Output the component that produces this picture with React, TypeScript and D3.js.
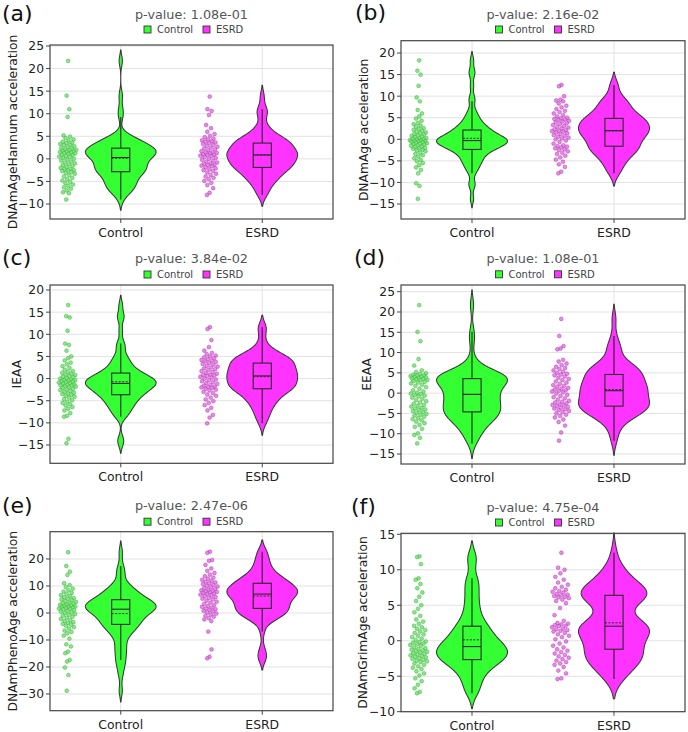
import React from "react";
import * as d3 from "d3";

const groups = ["Control", "ESRD"];
const panelTags = ["(a)", "(b)", "(c)", "(d)", "(e)", "(f)"];
const pValueLabels = ["1.08e-01", "2.16e-02", "3.84e-02", "1.08e-01", "2.47e-06", "4.75e-04"];
const yAxisTitles = [
  "DNAmAgeHannum acceleration",
  "DNAmAge acceleration",
  "IEAA",
  "EEAA",
  "DNAmPhenoAge acceleration",
  "DNAmGrimAge acceleration",
];

const yTicksA = [-10, -5, 0, 5, 10, 15, 20, 25];
const yTicksB = [-15, -10, -5, 0, 5, 10, 15, 20];
const yTicksC = [-15, -10, -5, 0, 5, 10, 15, 20];
const yTicksD = [-15, -10, -5, 0, 5, 10, 15, 20, 25];
const yTicksE = [-30, -20, -10, 0, 10, 20];
const yTicksF = [-10, -5, 0, 5, 10, 15];

const hannumControl = [
  21.7, 14.0, 11.0, 9.3, 5.2, 4.9, 4.6, 4.3, 4.0, 3.8, 3.6, 3.5, 3.3, 3.1, 3.0, 2.8, 2.6,
  2.4, 2.3, 2.1, 2.0, 1.9, 1.8, 1.7, 1.6, 1.5, 1.4, 1.3, 1.2, 1.1, 0.9, 0.8, 0.6, 0.5, 0.4,
  0.2, 0.0, -0.2, -0.4, -0.6, -0.8, -1.0, -1.2, -1.4, -1.6, -1.8, -2.0, -2.2, -2.3, -2.5, -2.6, -2.7,
  -2.9, -3.1, -3.3, -3.6, -3.9, -4.2, -4.5, -4.8, -5.1, -5.4, -5.7, -6.0, -6.3, -6.6, -7.0, -7.4, -7.6, -9.0,
];
const hannumESRD = [
  13.8, 11.0, 10.6, 9.7, 7.5, 6.8, 6.0, 5.5, 5.1, 4.8, 4.5, 4.3, 4.1, 3.9, 3.8, 3.65,
  3.5, 3.3, 3.1, 2.9, 2.7, 2.5, 2.3, 2.1, 1.9, 1.7, 1.5, 1.4, 1.3, 1.2, 1.0, 0.9,
  0.85,
  0.7, 0.6, 0.4, 0.2, 0.0, -0.2, -0.4, -0.6, -0.8, -1.0, -1.1, -1.3, -1.4, -1.5, -1.6,
  -1.9, -2.1, -2.3, -2.5, -2.7, -3.0, -3.3, -3.6, -3.9, -4.2, -4.5, -4.9, -5.3, -5.8, -6.5, -7.5, -8.0,
];
const ageControl = [
  18.3, 15.9, 15.0, 12.4, 9.7, 8.8, 6.8, 6.0, 5.3, 4.8, 4.3, 3.8, 3.5, 3.2, 2.9, 2.6, 2.4,
  2.2, 2.0, 1.8, 1.6, 1.4, 1.2, 1.1, 0.9, 0.8, 0.6, 0.5, 0.3, 0.2, 0.1, 0.0, -0.1, -0.2, -0.25,
  -0.35, -0.4, -0.5, -0.6, -0.7, -0.8, -0.9, -1.0, -1.1, -1.2, -1.4, -1.5, -1.7, -1.8, -2.0, -2.1, -2.2,
  -2.4, -2.6, -2.8, -3.1, -3.4, -3.7, -4.0, -4.4, -4.8, -5.1, -5.5, -6.0, -6.5, -7.1, -7.9, -10.2, -10.8, -13.8,
];
const ageESRD = [
  12.6, 12.3, 10.0, 9.2, 9.0, 8.8, 8.3, 7.8, 7.4, 7.0, 6.6, 6.3, 6.0, 5.6, 5.3, 5.0,
  4.85, 4.7, 4.6, 4.5, 4.3, 4.1, 3.9, 3.7, 3.5, 3.3, 3.1, 2.9, 2.7, 2.5, 2.3, 2.1,
  2.0, 1.9, 1.8, 1.6, 1.4, 1.2, 1.0, 0.8, 0.6, 0.4, 0.2, 0.0, -0.3, -0.6, -1.0, -1.4,
  -1.6, -1.7, -1.9, -2.1, -2.3, -2.5, -2.8, -3.1, -3.4, -3.8, -4.2, -4.7, -5.2, -5.8, -6.4, -7.5, -7.9,
];
const ieaaControl = [
  16.6, 14.1, 13.8, 10.8, 7.9, 7.6, 6.3, 5.0, 4.6, 4.1, 3.6, 3.2, 2.8, 2.4, 2.0, 1.7, 1.5,
  1.3, 1.1, 0.9, 0.8, 0.6, 0.4, 0.3, 0.1, 0.0, -0.2, -0.3, -0.4, -0.5, -0.6, -0.7, -0.8, -0.9, -1.0,
  -1.2, -1.3, -1.4, -1.5, -1.6, -1.7, -1.8, -2.0, -2.1, -2.3, -2.5, -2.6, -2.8, -3.0, -3.2, -3.4, -3.5,
  -3.7, -3.9, -4.1, -4.3, -4.6, -4.9, -5.2, -5.5, -5.8, -6.1, -6.4, -6.8, -7.2, -7.8, -8.4, -8.6, -13.6, -14.6,
];
const ieaaESRD = [
  11.6, 11.2, 8.7, 7.1, 6.3, 5.8, 5.5, 5.2, 5.0, 4.8, 4.6, 4.4, 4.2, 4.0, 3.9, 3.75,
  3.5, 3.3, 3.1, 2.9, 2.7, 2.5, 2.3, 2.1, 1.9, 1.7, 1.5, 1.3, 1.1, 0.9, 0.8, 0.7,
  0.6,
  0.4, 0.2, 0.0, -0.2, -0.4, -0.6, -0.8, -1.0, -1.2, -1.4, -1.6, -1.8, -1.9, -2.0, -2.1,
  -2.3, -2.5, -2.7, -3.0, -3.3, -3.6, -3.9, -4.3, -4.7, -5.1, -5.5, -6.0, -6.6, -7.2, -8.2, -8.8, -10.1,
];
const eeaaControl = [
  21.7, 15.1, 12.8, 8.4, 6.8, 5.6, 5.2, 4.9, 4.7, 4.5, 4.4, 4.3, 4.2, 4.1, 4.0, 3.9, 3.7,
  3.6, 3.5, 3.4, 3.3, 3.2, 3.0, 2.8, 2.6, 2.4, 2.1, 1.8, 1.5, 1.1, 0.7, 0.4, 0.1, -0.1, -0.2,
  -0.4, -0.6, -0.8, -1.1, -1.4, -1.7, -2.0, -2.3, -2.6, -2.9, -3.1, -3.3, -3.6, -3.8, -4.0, -4.2, -4.4,
  -4.7, -4.9, -5.1, -5.3, -5.5, -5.8, -6.1, -6.4, -6.7, -7.0, -7.4, -7.8, -8.3, -8.8, -9.9, -10.3, -11.0, -12.4,
];
const eeaaESRD = [
  18.3, 14.1, 11.6, 11.0, 10.8, 8.2, 7.8, 7.3, 6.9, 6.5, 6.2, 5.9, 5.6, 5.3, 5.0, 4.8,
  4.6, 4.4, 4.1, 3.8, 3.5, 3.2, 2.9, 2.6, 2.3, 2.0, 1.8, 1.6, 1.3, 1.1, 0.9, 0.7,
  0.6,
  0.4, 0.2, -0.1, -0.4, -0.7, -1.0, -1.3, -1.6, -1.9, -2.1, -2.3, -2.5, -2.7, -2.9, -3.0,
  -3.2, -3.4, -3.6, -3.8, -4.0, -4.2, -4.4, -4.7, -5.0, -5.3, -5.6, -6.0, -6.5, -7.1, -8.0, -9.7, -11.7,
];
const phenoControl = [
  22.5, 17.4, 15.3, 14.1, 11.0, 10.3, 9.6, 9.0, 8.4, 7.9, 7.4, 7.0, 6.6, 6.2, 5.8, 5.5, 5.3,
  5.0, 4.7, 4.4, 4.1, 3.8, 3.6, 3.4, 3.2, 3.0, 2.8, 2.6, 2.4, 2.3, 2.2, 2.0, 1.8, 1.6, 1.5,
  1.3, 1.1, 0.8, 0.5, 0.2, -0.1, -0.4, -0.7, -1.0, -1.4, -1.8, -2.2, -2.6, -3.0, -3.4, -3.7, -4.0,
  -4.3, -4.7, -5.2, -5.8, -6.5, -7.0, -7.5, -8.4, -9.5, -11.6, -12.4, -14.3, -14.9, -17.4, -18.0, -20.2, -23.0, -28.8,
];
const phenoESRD = [
  22.7, 22.3, 19.6, 19.3, 17.8, 16.5, 15.6, 14.8, 14.2, 13.6, 13.1, 12.7, 12.3, 11.9, 11.6, 11.3,
  11.0, 10.7, 10.4, 10.1, 9.8, 9.5, 9.2, 8.9, 8.6, 8.4, 8.2, 8.0, 7.8, 7.6, 7.4, 7.2,
  7.0,
  6.8, 6.5, 6.2, 5.9, 5.6, 5.3, 5.0, 4.6, 4.2, 3.8, 3.4, 3.0, 2.6, 2.3, 2.0,
  1.7, 1.4, 1.1, 0.8, 0.5, 0.2, -0.2, -0.6, -1.0, -1.4, -1.9, -2.4, -3.0, -6.9, -13.5, -16.2, -16.8,
];
const grimControl = [
  11.9, 11.8, 10.8, 8.8, 8.6, 8.0, 7.4, 6.8, 6.2, 5.6, 5.0, 4.5, 4.0, 3.5, 3.0, 2.7, 2.4,
  2.1, 1.9, 1.7, 1.5, 1.3, 1.1, 0.9, 0.7, 0.5, 0.3, 0.1, -0.1, -0.2, -0.3, -0.4, -0.5, -0.6, -0.7,
  -0.95, -1.05, -1.15, -1.25, -1.35, -1.45, -1.55, -1.65, -1.75, -1.85, -1.95, -2.05, -2.15, -2.25, -2.35, -2.45, -2.55,
  -2.7, -2.8, -2.9, -3.0, -3.2, -3.4, -3.6, -3.8, -4.0, -4.3, -4.6, -4.9, -5.3, -5.7, -6.2, -6.7, -7.2, -7.4,
];
const grimESRD = [
  12.4, 10.3, 10.0, 9.5, 9.0, 8.6, 8.2, 7.9, 7.6, 7.4, 7.2, 7.0, 6.9, 6.8, 6.6, 6.5,
  6.4, 6.3, 6.2, 6.1, 6.0, 5.8, 5.6, 5.3, 4.6, 3.6, 2.8, 2.5, 2.4, 2.3, 2.2, 2.1,
  2.05,
  1.9, 1.7, 1.6, 1.5, 1.4, 1.3, 1.1, 0.9, 0.7, 0.5, 0.2, -0.1, -0.4, -0.7, -0.95,
  -1.2, -1.4, -1.6, -1.8, -2.0, -2.2, -2.4, -2.6, -2.8, -3.0, -3.2, -3.4, -3.7, -4.2, -4.6, -5.3, -5.4,
];

const panelSeries = [
  [hannumControl, hannumESRD],
  [ageControl, ageESRD],
  [ieaaControl, ieaaESRD],
  [eeaaControl, eeaaESRD],
  [phenoControl, phenoESRD],
  [grimControl, grimESRD],
];
const panelTicks = [yTicksA, yTicksB, yTicksC, yTicksD, yTicksE, yTicksF];

const FONT = "'DejaVu Sans', Verdana, sans-serif";
const violinFill = ["#33ff33", "#ff33ff"];
const pointFill = ["rgba(105,226,105,0.78)", "rgba(226,105,226,0.78)"];
const pointStroke = ["rgba(55,175,55,0.8)", "rgba(175,55,175,0.8)"];

type Frame = {
  L: number; R: number; T: number; B: number; y0: number; y1: number;
  tagX: number; tagY: number; titleY: number; legendY: number; yTitleX: number;
};

const frames: Frame[] = [
  { L: 50, R: 333, T: 45, B: 219, y0: -13.32, y1: 25.22, tagX: 2, tagY: 20.5, titleY: 18.5, legendY: 29.5, yTitleX: 13 },
  { L: 401, R: 685, T: 40.7, B: 219, y0: -18.48, y1: 22.86, tagX: 355, tagY: 19.5, titleY: 18.5, legendY: 29.5, yTitleX: 364 },
  { L: 50, R: 333, T: 285, B: 463.3, y0: -19.13, y1: 21.13, tagX: 2, tagY: 265, titleY: 263, legendY: 274.5, yTitleX: 16.7 },
  { L: 401, R: 685, T: 285, B: 464, y0: -17.46, y1: 26.65, tagX: 354, tagY: 265, titleY: 263, legendY: 274.3, yTitleX: 367 },
  { L: 50, R: 333, T: 531.7, B: 710.7, y0: -36.19, y1: 30.1, tagX: 2, tagY: 513, titleY: 510, legendY: 521.7, yTitleX: 12.3 },
  { L: 401, R: 685, T: 533.3, B: 711.7, y0: -10, y1: 15.14, tagX: 351, tagY: 514, titleY: 511.5, legendY: 522.5, yTitleX: 362.3 },
];

function summarize(values: number[]) {
  const s = [...values].sort(d3.ascending);
  const n = s.length;
  const q1 = d3.quantileSorted(s, 0.25) as number;
  const med = d3.quantileSorted(s, 0.5) as number;
  const q3 = d3.quantileSorted(s, 0.75) as number;
  const iqr = q3 - q1;
  const lf = d3.min(s.filter((v) => v >= q1 - 1.5 * iqr)) as number;
  const uf = d3.max(s.filter((v) => v <= q3 + 1.5 * iqr)) as number;
  const mean = d3.mean(s) as number;
  const sd = d3.deviation(s) as number;
  // Silverman-type bandwidth, narrowed to match the reference's kernel
  const bw = 0.68 * 1.059 * Math.min(sd, iqr / 1.349) * Math.pow(n, -0.2);
  const lo = s[0] - 2 * bw;
  const hi = s[n - 1] + 2 * bw;
  const kde = (y: number) => d3.sum(s, (v) => Math.exp(-0.5 * ((y - v) / bw) ** 2));
  const steps = 260;
  const prof = d3.range(steps + 1).map((k) => {
    const y = lo + ((hi - lo) * k) / steps;
    return { y, d: kde(y) };
  });
  const maxD = d3.max(prof, (p) => p.d) as number;
  return { s, q1, med, q3, lf, uf, mean, prof, maxD, kde };
}

function fmtTick(v: number) {
  return v < 0 ? "\u2212" + Math.abs(v) : String(v);
}

function Panel({ idx }: { idx: number }) {
  const f = frames[idx];
  const x = d3.scalePoint<string>().domain(groups).range([f.L, f.R]).padding(0.5);
  const step = x.step();
  const y = d3.scaleLinear().domain([f.y0, f.y1]).range([f.B, f.T]);
  const cx = (f.L + f.R) / 2;
  const halfW = 0.25 * step;
  const boxHalf = 0.064 * step;
  const ptOffset = -0.375 * step;
  const jit = 0.064 * step;

  return (
    <g>
      {panelTicks[idx].map((t) => (
        <line key={"gy" + t} x1={f.L} x2={f.R} y1={y(t)} y2={y(t)} stroke="#e2e2e2" strokeWidth={1} />
      ))}
      {groups.map((g) => (
        <line key={"gx" + g} x1={x(g)} x2={x(g)} y1={f.T} y2={f.B} stroke="#e2e2e2" strokeWidth={1} />
      ))}
      {groups.map((g, gi) => {
        const st = summarize(panelSeries[idx][gi]);
        const c = x(g) as number;
        const area = d3
          .area<{ y: number; d: number }>()
          .y((p) => y(p.y))
          .x0((p) => c - (halfW * p.d) / st.maxD)
          .x1((p) => c + (halfW * p.d) / st.maxD)
          .curve(d3.curveBasis);
        const pc = c + ptOffset;
        return (
          <g key={g}>
            <path d={area(st.prof) || ""} fill={violinFill[gi]} stroke="#383838" strokeWidth={1.05} />
            <line x1={c} x2={c} y1={y(st.uf)} y2={y(st.lf)} stroke="rgba(20,20,20,0.75)" strokeWidth={1.3} />
            <rect
              x={c - boxHalf}
              y={y(st.q3)}
              width={boxHalf * 2}
              height={y(st.q1) - y(st.q3)}
              fill={violinFill[gi]}
              stroke="#2a2a2a"
              strokeWidth={1.1}
            />
            <line x1={c - boxHalf} x2={c + boxHalf} y1={y(st.med)} y2={y(st.med)} stroke="#2a2a2a" strokeWidth={1.1} />
            <line
              x1={c - boxHalf}
              x2={c + boxHalf}
              y1={y(st.mean)}
              y2={y(st.mean)}
              stroke="#2a2a2a"
              strokeWidth={1}
              strokeDasharray="2,1.5"
            />
            {panelSeries[idx][gi].map((v, i) => {
              const u = (((i + 1) * 0.6180339887) % 1) - 0.5;
              const fac = Math.sqrt(st.kde(v) / st.maxD);
              return (
                <circle
                  key={i}
                  cx={pc + u * 2 * jit * fac}
                  cy={y(v)}
                  r={1.9}
                  fill={pointFill[gi]}
                  stroke={pointStroke[gi]}
                  strokeWidth={0.6}
                />
              );
            })}
          </g>
        );
      })}
      <rect x={f.L} y={f.T} width={f.R - f.L} height={f.B - f.T} fill="none" stroke="#444" strokeWidth={1.2} />
      {panelTicks[idx].map((t) => (
        <g key={"ty" + t}>
          <line x1={f.L - 4} x2={f.L} y1={y(t)} y2={y(t)} stroke="#444" strokeWidth={1} />
          <text x={f.L - 6} y={y(t)} dy="0.36em" textAnchor="end" fontSize={12.3} fill="#222" fontFamily={FONT}>
            {fmtTick(t)}
          </text>
        </g>
      ))}
      {groups.map((g) => (
        <g key={"tx" + g}>
          <line x1={x(g)} x2={x(g)} y1={f.B} y2={f.B + 4} stroke="#444" strokeWidth={1} />
          <text x={x(g)} y={f.B + 18} textAnchor="middle" fontSize={12.4} fill="#222" fontFamily={FONT}>
            {g}
          </text>
        </g>
      ))}
      <text
        transform={`translate(${f.yTitleX},${(f.T + f.B) / 2}) rotate(-90)`}
        dy="0.36em"
        textAnchor="middle"
        fontSize={12.3}
        fill="#222"
        fontFamily={FONT}
      >
        {yAxisTitles[idx]}
      </text>
      <text x={cx} y={f.titleY} textAnchor="middle" fontSize={12.8} fill="#555" fontFamily={FONT}>
        {"p-value: " + pValueLabels[idx]}
      </text>
      {groups.map((g, gi) => {
        const sx = cx + (gi === 0 ? -47.5 : 11.5);
        return (
          <g key={"lg" + g}>
            <rect x={sx} y={f.legendY - 3.5} width={7} height={7} fill={violinFill[gi]} stroke="#333" strokeWidth={0.9} />
            <text x={sx + 13} y={f.legendY} dy="0.36em" fontSize={10} fill="#444" fontFamily={FONT}>
              {g}
            </text>
          </g>
        );
      })}
      <text x={f.tagX} y={f.tagY} fontSize={22} fill="#111" fontFamily={FONT}>
        {panelTags[idx]}
      </text>
    </g>
  );
}

export default function App() {
  return (
    <svg
      width={688}
      height={732}
      viewBox="0 0 688 732"
      style={{ position: "absolute", left: 0, top: 0, background: "#fff" }}
    >
      <rect x={0} y={0} width={688} height={732} fill="#fff" />
      {frames.map((_, i) => (
        <Panel key={i} idx={i} />
      ))}
    </svg>
  );
}
